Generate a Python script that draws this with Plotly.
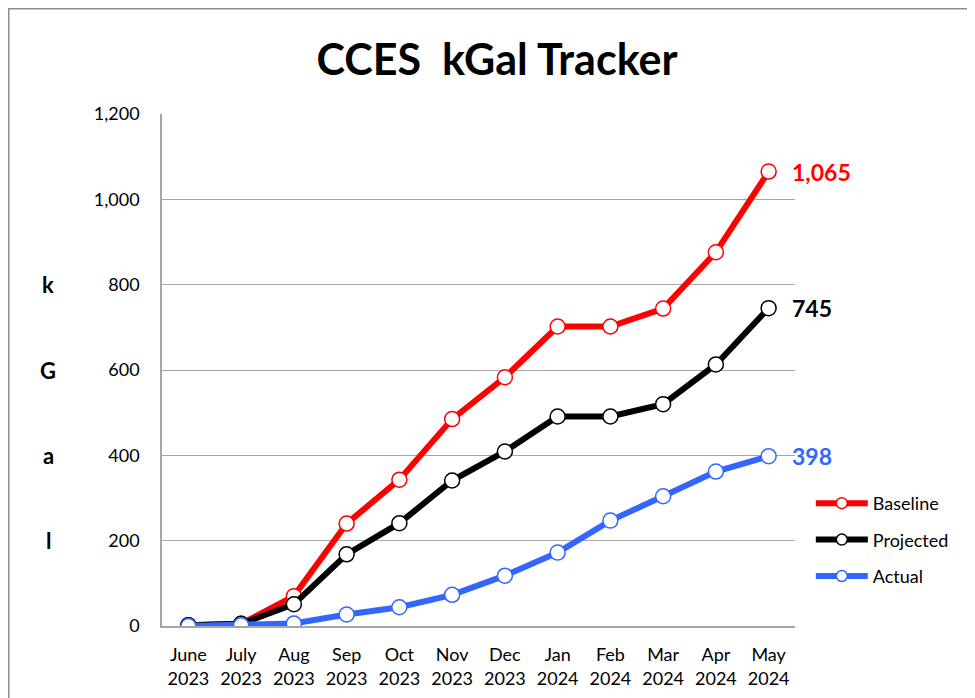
import plotly.graph_objects as go

months = ["June<br>2023", "July<br>2023", "Aug<br>2023", "Sep<br>2023", "Oct<br>2023", "Nov<br>2023",
          "Dec<br>2023", "Jan<br>2024", "Feb<br>2024", "Mar<br>2024", "Apr<br>2024", "May<br>2024"]
baseline = [2, 5, 70, 240, 343, 485, 583, 702, 702, 744, 876, 1065]
projected = [2, 5, 51, 168, 241, 341, 409, 491, 491, 520, 613, 745]
actual = [0, 2, 6, 27, 44, 73, 118, 172, 247, 304, 362, 398]
series_names = ["Baseline", "Projected", "Actual"]
series_colors = ["#ff0000", "#000000", "#3366ff"]
end_labels = ["1,065", "745", "398"]
y_ticks = [0, 200, 400, 600, 800, 1000, 1200]
y_tick_text = ["0", "200", "400", "600", "800", "1,000", "1,200"]
y_title_letters = ["k", "G", "a", "l"]
y_title_positions = [800, 600, 400, 200]

FONT = "Lato, Carlito, Calibri, sans-serif"

# plot area in figure pixels (page has an 8px body margin)
L, R, T, B = 154, 787, 106, 618
PW, PH = R - L, B - T

fig = go.Figure()
for i, (name, vals, col) in enumerate(zip(series_names, [baseline, projected, actual], series_colors)):
    fig.add_trace(go.Scatter(
        x=months, y=vals, name=name, mode="lines+markers",
        line=dict(color=col, width=6),
        marker=dict(symbol="circle", size=15, color="white", line=dict(color=col, width=1.5)),
        legendgroup=name, showlegend=False,
    ))
    # legend entry with a smaller marker, like the reference
    fig.add_trace(go.Scatter(
        x=[None], y=[None], name=name, mode="lines+markers",
        line=dict(color=col, width=6),
        marker=dict(symbol="circle", size=11, color="white", line=dict(color=col, width=1.5)),
        legendgroup=name, showlegend=True, hoverinfo="skip",
    ))
    fig.add_annotation(x=months[-1], y=vals[-1], text="<b>" + end_labels[i] + "</b>",
                       showarrow=False, xanchor="left", xshift=21,
                       font=dict(family=FONT, size=23, color=col))

for letter, pos in zip(y_title_letters, y_title_positions):
    fig.add_annotation(x=(40 - L) / PW, y=pos, xref="paper", yref="y", text="<b>" + letter + "</b>",
                       showarrow=False, xanchor="center", yanchor="middle",
                       font=dict(family=FONT, size=22, color="black"))

# outer chart border
fig.add_shape(type="rect", xref="paper", yref="paper",
              x0=(0.75 - L) / PW, x1=(1000 - L) / PW,
              y0=(B - 720) / PH, y1=(B - 0.75) / PH,
              line=dict(color="#8c8c8c", width=1.5), fillcolor="rgba(0,0,0,0)", layer="below")

fig.update_layout(
    width=975, height=698,
    margin=dict(l=L, r=975 - R, t=T, b=698 - B),
    paper_bgcolor="white", plot_bgcolor="white",
    font=dict(family=FONT, size=18, color="black"),
    title=dict(text="<b>CCES\u00a0\u00a0kGal Tracker</b>", x=489 / 975, xanchor="center",
               y=1 - 52 / 698, yanchor="middle",
               font=dict(family=FONT, size=43, color="black")),
    showlegend=True,
    legend=dict(x=1.025, y=(B - 477) / PH, xanchor="left", yanchor="top",
                font=dict(family=FONT, size=18, color="black"),
                traceorder="grouped", tracegroupgap=10, bgcolor="rgba(0,0,0,0)",
                itemwidth=52),
    xaxis=dict(showgrid=False, showline=True, linecolor="#a6a6a6", linewidth=1.5,
               ticks="", ticklabelstandoff=12, tickfont=dict(family=FONT, size=18, color="black"),
               range=[-0.5, 11.5], fixedrange=True),
    yaxis=dict(range=[0, 1200], tickvals=y_ticks, ticktext=y_tick_text,
               showgrid=True, gridcolor="#a6a6a6", gridwidth=1,
               showline=True, linecolor="#a6a6a6", linewidth=1.5, zeroline=False,
               ticks="", ticklabelstandoff=17,
               tickfont=dict(family=FONT, size=18, color="black")),
)

fig.write_html("out.html")
